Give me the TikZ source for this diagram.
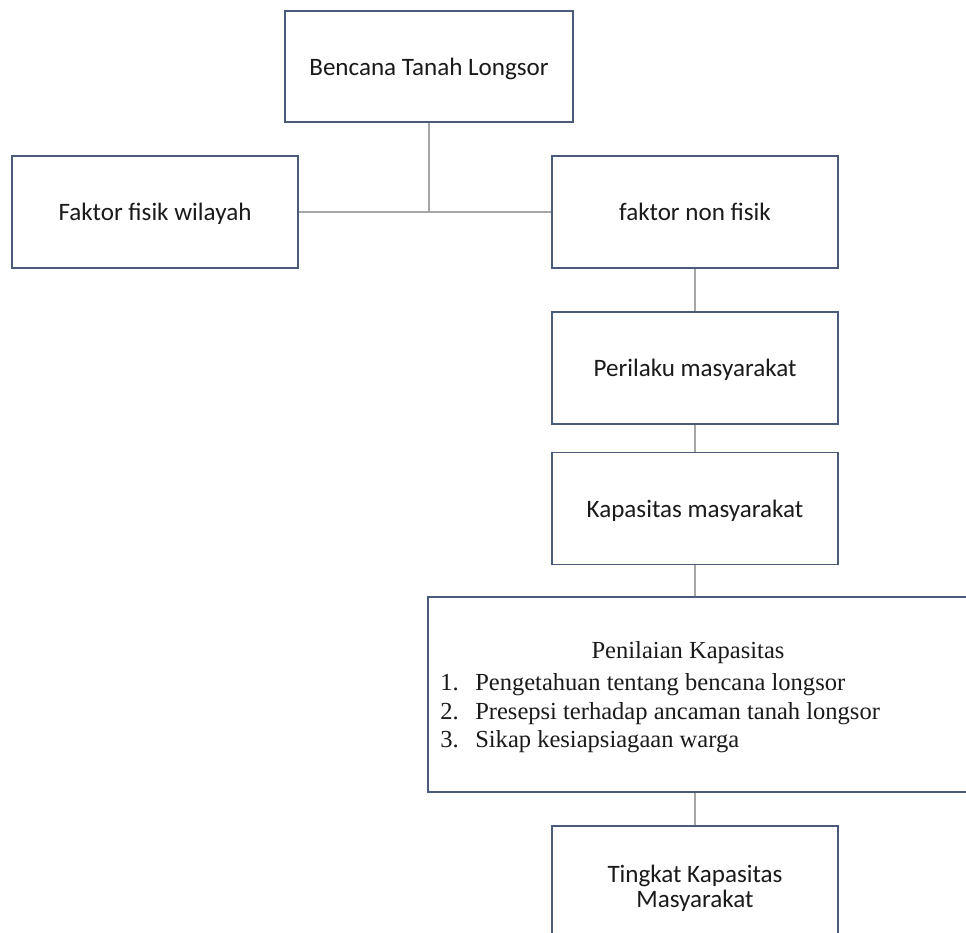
\documentclass[tikz,border=0pt]{standalone}
\usepackage{fontspec}
\setmainfont{Carlito}
\newfontfamily\serifx{Liberation Serif}
\definecolor{boxline}{HTML}{4A5A7A}
\definecolor{conn}{HTML}{A6A6A6}
\definecolor{txt}{HTML}{1A1A1A}
\begin{document}
\begin{tikzpicture}[x=0.75pt,y=-0.75pt,
  box/.style={draw=boxline,line width=1.2pt,fill=white,inner sep=0pt,
    minimum width=214.5pt,minimum height=84pt,align=center,text depth=0pt,
    font=\fontsize{18.8}{18.8}\selectfont,text=txt},
  ttxt/.style={font=\fontsize{18.8}{18.8}\selectfont,text=txt,inner sep=0pt,anchor=base},
  link/.style={draw=conn,line width=0.9pt},
  stxt/.style={font=\serifx\fontsize{18.4}{20}\selectfont,text=txt,inner sep=0pt}]
\useasboundingbox (0,0) rectangle (966,932);
\clip (0,0) rectangle (966,932);
\node[box,minimum width=216pt,minimum height=83.25pt] (top) at (429,66.5) {Bencana Tanah Longsor};
\node[box] (left) at (155,212) {Faktor fisik wilayah};
\node[box] (right) at (695,212) {faktor non fisik};
\node[box] (peri) at (695,368) {Perilaku masyarakat};
\node[box] (kap) at (695,508.5) {Kapasitas masyarakat};
\node[box,minimum width=429pt,minimum height=146.25pt] (pen) at (714,694.5) {};
\node[box] (ting) at (695,882) {};
\node[ttxt] (tingA) at (695,882) {Tingkat Kapasitas};
\node[ttxt] (tingB) at (695,907) {Masyarakat};
\coordinate (j) at (top.south |- left.east);
\draw[link] (top.south) -- (j);
\draw[link] (left.east) -- (right.west);
\draw[link] (right.south) -- (peri.north);
\draw[link] (peri.south) -- (kap.north);
\draw[link] (kap.south) -- (kap.south |- pen.north);
\draw[link] (ting.north |- pen.south) -- (ting.north);
\node[stxt,anchor=base] (pt) at (688,658) {Penilaian Kapasitas};
\node[stxt,anchor=base west] (n1) at (440,690) {1.};
\node[stxt,anchor=base west] (i1) at (475,690) {Pengetahuan tentang bencana longsor};
\node[stxt,anchor=base west] (n2) at (440,719) {2.};
\node[stxt,anchor=base west] (i2) at (475,719) {Presepsi terhadap ancaman tanah longsor};
\node[stxt,anchor=base west] (n3) at (440,747) {3.};
\node[stxt,anchor=base west] (i3) at (475,747) {Sikap kesiapsiagaan warga};
\end{tikzpicture}
\end{document}
